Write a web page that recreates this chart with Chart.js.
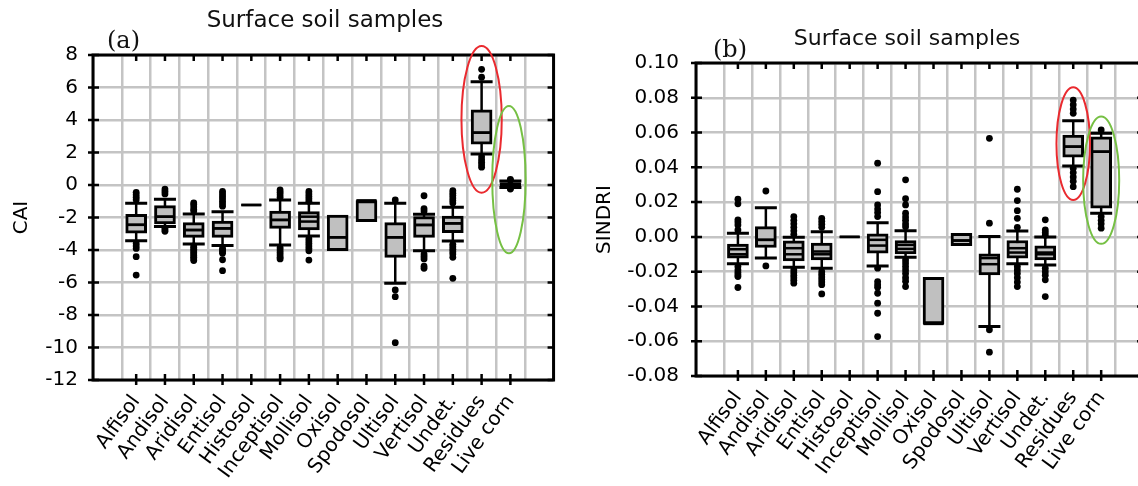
<!DOCTYPE html>
<html>
<head>
<meta charset="utf-8">
<script src="https://cdn.jsdelivr.net/npm/chart.js@4.4.1/dist/chart.umd.min.js"></script>
<style>
html, body { margin: 0; padding: 0; overflow: hidden; background: #fff; width: 1138px; height: 486px; }
#chartA { position: absolute; left: 0; top: 0; }
#chartB { position: absolute; left: 580px; top: 0; }
</style>
</head>
<body>
<canvas id="chartA" width="570" height="486"></canvas>
<canvas id="chartB" width="580" height="486"></canvas>
<script>
// --- categories (same for both panels) ---
const categories = ['Alfisol', 'Andisol', 'Aridisol', 'Entisol', 'Histosol', 'Inceptisol', 'Mollisol',
  'Oxisol', 'Spodosol', 'Ultisol', 'Vertisol', 'Undet.', 'Residues', 'Live corn'];

// --- panel (a): CAI ---
const caiTicks = [-12, -10, -8, -6, -4, -2, 0, 2, 4, 6, 8];
const caiQ1     = [-2.97, -2.40, -3.22, -3.22, -1.23, -2.67, -2.77, -4.04, -2.26, -4.45, -3.22, -2.93, 2.52, -0.05];
const caiQ3     = [-1.80, -1.27, -2.32, -2.22, -1.23, -1.60, -1.64, -1.85, -0.96, -2.32, -1.95, -1.91, 4.62, 0.15];
const caiMedian = [-2.45, -1.95, -2.77, -2.67, -1.23, -2.15, -2.25, -3.22, -0.96, -3.22, -2.46, -2.36, 3.22, 0.05];
const caiMean   = [-2.45, -1.95, -2.77, -2.67, -1.23, -2.15, -1.95, -3.22, -0.96, -3.22, -2.46, -2.36, 3.22, 0.05];
const caiLow    = [-3.43, -2.55, -3.63, -3.73, null, -3.69, -3.14, null, null, -6.05, -4.04, -3.45, 1.91, -0.15];
const caiHigh   = [-1.13, -0.88, -1.78, -1.64, null, -0.92, -1.13, null, null, -1.13, -1.80, -1.37, 6.36, 0.25];
const caiOutliers = [
  [-0.45, -0.6, -0.75, -0.9, -3.6, -3.75, -3.9, -4.41, -5.54],
  [-0.25, -0.4, -0.55, -2.65, -2.75, -2.85],
  [-1.1, -1.2, -1.35, -1.5, -1.6, -3.75, -3.85, -3.95, -4.05, -4.15, -4.25, -4.35, -4.45, -4.55, -4.65],
  [-0.4, -0.55, -0.7, -0.85, -1.0, -1.15, -1.3, -3.9, -4.0, -4.1, -4.2, -4.6, -5.27],
  [],
  [-0.3, -0.45, -0.6, -0.75, -3.85, -4.0, -4.15, -4.3, -4.45, -4.55],
  [-0.4, -0.55, -0.7, -0.85, -1.0, -3.3, -3.45, -3.6, -3.75, -3.9, -4.05, -4.62],
  [],
  [],
  [-0.92, -6.46, -6.87, -9.7],
  [-0.66, -1.45, -1.6, -4.25, -4.4, -4.55, -5.0, -5.13],
  [-0.35, -0.5, -0.65, -0.8, -0.95, -1.1, -3.65, -3.8, -3.95, -4.1, -4.25, -4.45, -5.74],
  [6.63, 7.12, 1.74, 1.55, 1.4, 1.25, 1.1],
  [0.35, 0.3, -0.2, -0.25]
];

// --- panel (b): SINDRI ---
const sindriTicks = [-0.08, -0.06, -0.04, -0.02, 0.00, 0.02, 0.04, 0.06, 0.08, 0.10];
const sindriQ1     = [-0.0122, -0.0061, -0.0138, -0.0132, 0, -0.0094, -0.0098, -0.050, -0.005, -0.0218, -0.0122, -0.0132, 0.0458, 0.0165];
const sindriQ3     = [-0.0042, 0.0059, -0.0023, -0.0036, 0, 0.0017, -0.0021, -0.0232, 0.0021, -0.0098, -0.0021, -0.0052, 0.0586, 0.0576];
const sindriMedian = [-0.0100, -0.0017, -0.0100, -0.0100, 0, -0.0050, -0.0069, -0.050, -0.0021, -0.0157, -0.0090, -0.0100, 0.0519, 0.0490];
const sindriMean   = [-0.0071, -0.0017, -0.0065, -0.0084, 0, -0.0017, -0.0046, -0.050, -0.0021, -0.0122, -0.0065, -0.0090, 0.0519, 0.0490];
const sindriLow    = [-0.0155, -0.0122, -0.0174, -0.0180, null, -0.0167, -0.0117, null, null, -0.0515, -0.0155, -0.0161, 0.0408, 0.0136];
const sindriHigh   = [0.0021, 0.0168, -0.0002, 0.0030, null, 0.0082, 0.0036, null, null, 0.0002, 0.0034, 0.0000, 0.0668, 0.0596];
const sindriOutliers = [
  [0.0217, 0.019, 0.0098, 0.0085, 0.0069, 0.004, -0.017, -0.019, -0.0205, -0.0218, -0.0228, -0.0291],
  [0.0264, -0.0167],
  [0.0117, 0.0095, 0.0075, 0.0055, 0.0035, 0.0015, -0.019, -0.0205, -0.022, -0.0235, -0.025, -0.0266],
  [0.0107, 0.009, 0.0073, 0.0055, -0.020, -0.0215, -0.023, -0.0245, -0.026, -0.0275, -0.0328],
  [],
  [0.0424, 0.026, 0.0184, 0.016, 0.014, 0.0117, -0.018, -0.0257, -0.0275, -0.029, -0.0324, -0.0381, -0.0439, -0.0573],
  [0.0328, 0.022, 0.0184, 0.0136, 0.0115, 0.0095, 0.0075, 0.0059, -0.0132, -0.015, -0.017, -0.019, -0.021, -0.0235, -0.0255, -0.0286],
  [],
  [],
  [0.0567, 0.0079, -0.0534, -0.0663],
  [0.0274, 0.0209, 0.0151, 0.0107, 0.0055, -0.017, -0.019, -0.021, -0.0235, -0.026, -0.0286],
  [0.0098, 0.004, 0.0025, 0.001, -0.018, -0.020, -0.022, -0.0247, -0.0343],
  [0.0787, 0.076, 0.0735, 0.0711, 0.0395, 0.037, 0.0345, 0.032, 0.0289],
  [0.0615, 0.0117, 0.0095, 0.0075, 0.005]
];

Chart.defaults.font.family = '"DejaVu Sans", sans-serif';
Chart.defaults.color = '#000';

// whiskers, caps, medians, frame, ticks, ellipses and labels
function boxExtras(p) {
  return {
    id: 'boxExtras',
    beforeDatasetsDraw(chart) {
      const { ctx, scales: { x, y } } = chart;
      ctx.save();
      ctx.strokeStyle = '#000';
      p.low.forEach((lo, i) => {
        if (lo === null) return;
        const px = x.getPixelForValue(i + 1);
        const yl = y.getPixelForValue(lo), yh = y.getPixelForValue(p.high[i]);
        ctx.lineWidth = 2.5;
        ctx.beginPath(); ctx.moveTo(px, yl); ctx.lineTo(px, yh); ctx.stroke();
        ctx.lineWidth = 3;
        ctx.beginPath();
        ctx.moveTo(px - 11, yl); ctx.lineTo(px + 11, yl);
        ctx.moveTo(px - 11, yh); ctx.lineTo(px + 11, yh);
        ctx.stroke();
      });
      ctx.restore();
    },
    afterDatasetsDraw(chart) {
      const { ctx, scales: { x, y } } = chart;
      ctx.save();
      ctx.strokeStyle = '#000';
      ctx.lineWidth = 2.5;
      p.median.forEach((m, i) => {
        const px = x.getPixelForValue(i + 1);
        [m, p.mean[i]].forEach(v => {
          const py = y.getPixelForValue(v);
          ctx.beginPath(); ctx.moveTo(px - 10, py); ctx.lineTo(px + 10, py); ctx.stroke();
        });
      });
      ctx.restore();
    },
    afterDraw(chart) {
      const { ctx, chartArea: a, scales: { x, y } } = chart;
      ctx.save();
      ctx.strokeStyle = '#000';
      ctx.lineWidth = 3;
      ctx.strokeRect(a.left, a.top, a.right - a.left, a.bottom - a.top);
      ctx.lineWidth = 2.5;
      ctx.beginPath();
      y.ticks.forEach(t => {
        const py = y.getPixelForValue(t.value);
        ctx.moveTo(a.left - 5, py); ctx.lineTo(a.left + 6, py);
        ctx.moveTo(a.right - 6, py); ctx.lineTo(a.right, py);
      });
      categories.forEach((c, i) => {
        const px = x.getPixelForValue(i + 1);
        ctx.moveTo(px, a.bottom - 6); ctx.lineTo(px, a.bottom + 5);
        ctx.moveTo(px, a.top); ctx.lineTo(px, a.top + 6);
      });
      ctx.stroke();

      // ellipses around residues / live corn
      ctx.lineWidth = 2;
      p.ellipses.forEach(e => {
        const cx = x.getPixelForValue(e.x), cy = y.getPixelForValue(e.y);
        const rx = Math.abs(x.getPixelForValue(e.x + e.rx) - cx);
        const ry = Math.abs(y.getPixelForValue(e.y + e.ry) - cy);
        ctx.strokeStyle = e.color;
        ctx.beginPath(); ctx.ellipse(cx, cy, rx, ry, 0, 0, Math.PI * 2); ctx.stroke();
      });

      ctx.fillStyle = '#111';
      ctx.textBaseline = 'alphabetic';
      ctx.textAlign = 'center';
      ctx.font = p.titleSize + 'px "DejaVu Sans"';
      ctx.fillText('Surface soil samples', p.titleX, p.titleY);
      ctx.textAlign = 'left';
      ctx.font = '24px "DejaVu Serif"';
      ctx.fillText(p.tag, p.tagX, p.tagY);
      ctx.restore();
    }
  };
}

function drawPanel(id, p) {
  const outliers = p.outliers.flatMap((vals, i) => vals.map(v => ({ x: i + 1, y: v })));
  const boxes = p.q1.map((v, i) => ({ x: i + 1, y: [v, p.q3[i]] }));
  const t = p.ticks;
  new Chart(document.getElementById(id), {
    type: 'bar',
    data: {
      datasets: [
        { type: 'scatter', data: outliers, pointRadius: 3.4, pointHoverRadius: 3.4,
          backgroundColor: '#000', borderWidth: 0, order: 0 },
        { type: 'bar', data: boxes, backgroundColor: '#c0c0c0', borderColor: '#000',
          borderWidth: 3, borderSkipped: false, barThickness: 21, order: 1 }
      ]
    },
    options: {
      responsive: false,
      animation: false,
      layout: { padding: p.padding },
      plugins: { legend: { display: false }, tooltip: { enabled: false } },
      scales: {
        x: {
          type: 'linear', min: 0, max: categories.length + 1,
          grid: { color: '#c4c4c4', lineWidth: 2.5, drawTicks: false },
          border: { display: false },
          ticks: {
            stepSize: 1, autoSkip: false, maxRotation: 54, minRotation: 54, padding: 11,
            font: { size: 20 },
            callback: v => categories[v - 1] || ''
          },
          afterFit: s => { s.height = p.xHeight; }
        },
        y: {
          min: t[0], max: t[t.length - 1],
          grid: { color: '#c4c4c4', lineWidth: 2.5, drawTicks: false },
          border: { display: false },
          ticks: { stepSize: t[1] - t[0], padding: p.yPad, font: { size: 20 }, callback: p.fmt },
          title: { display: true, text: p.yTitle, font: { size: 20 }, padding: { top: p.yTitlePad, bottom: 0 } },
          afterFit: s => { s.width = p.yWidth; }
        }
      }
    },
    plugins: [boxExtras(p)]
  });
}

drawPanel('chartA', {
  ticks: caiTicks, q1: caiQ1, q3: caiQ3, median: caiMedian, mean: caiMean,
  low: caiLow, high: caiHigh, outliers: caiOutliers,
  yTitle: 'CAI', yTitlePad: 10, yWidth: 93, yPad: 15, xHeight: 106,
  padding: { top: 55, right: 13, left: 0, bottom: 0 },
  fmt: v => String(v),
  titleX: 325, titleY: 27, titleSize: 23, tag: '(a)', tagX: 107, tagY: 48,
  ellipses: [
    { x: 13, y: 4.04, rx: 0.7, ry: 4.51, color: '#ea2a2f' },
    { x: 13.95, y: 0.33, rx: 0.58, ry: 4.53, color: '#76c044' }
  ]
});

drawPanel('chartB', {
  ticks: sindriTicks, q1: sindriQ1, q3: sindriQ3, median: sindriMedian, mean: sindriMean,
  low: sindriLow, high: sindriHigh, outliers: sindriOutliers,
  yTitle: 'SINDRI', yTitlePad: 13, yWidth: 116, yPad: 17, xHeight: 110,
  padding: { top: 63, right: 15, left: 0, bottom: 0 },
  fmt: v => Math.abs(v) < 1e-9 ? '0.00' : v.toFixed(2),
  titleX: 327, titleY: 45, titleSize: 22, tag: '(b)', tagX: 133, tagY: 57,
  ellipses: [
    { x: 13, y: 0.0536, rx: 0.6, ry: 0.0324, color: '#ea2a2f' },
    { x: 14, y: 0.0326, rx: 0.645, ry: 0.0366, color: '#76c044' }
  ]
});
</script>
</body>
</html>
